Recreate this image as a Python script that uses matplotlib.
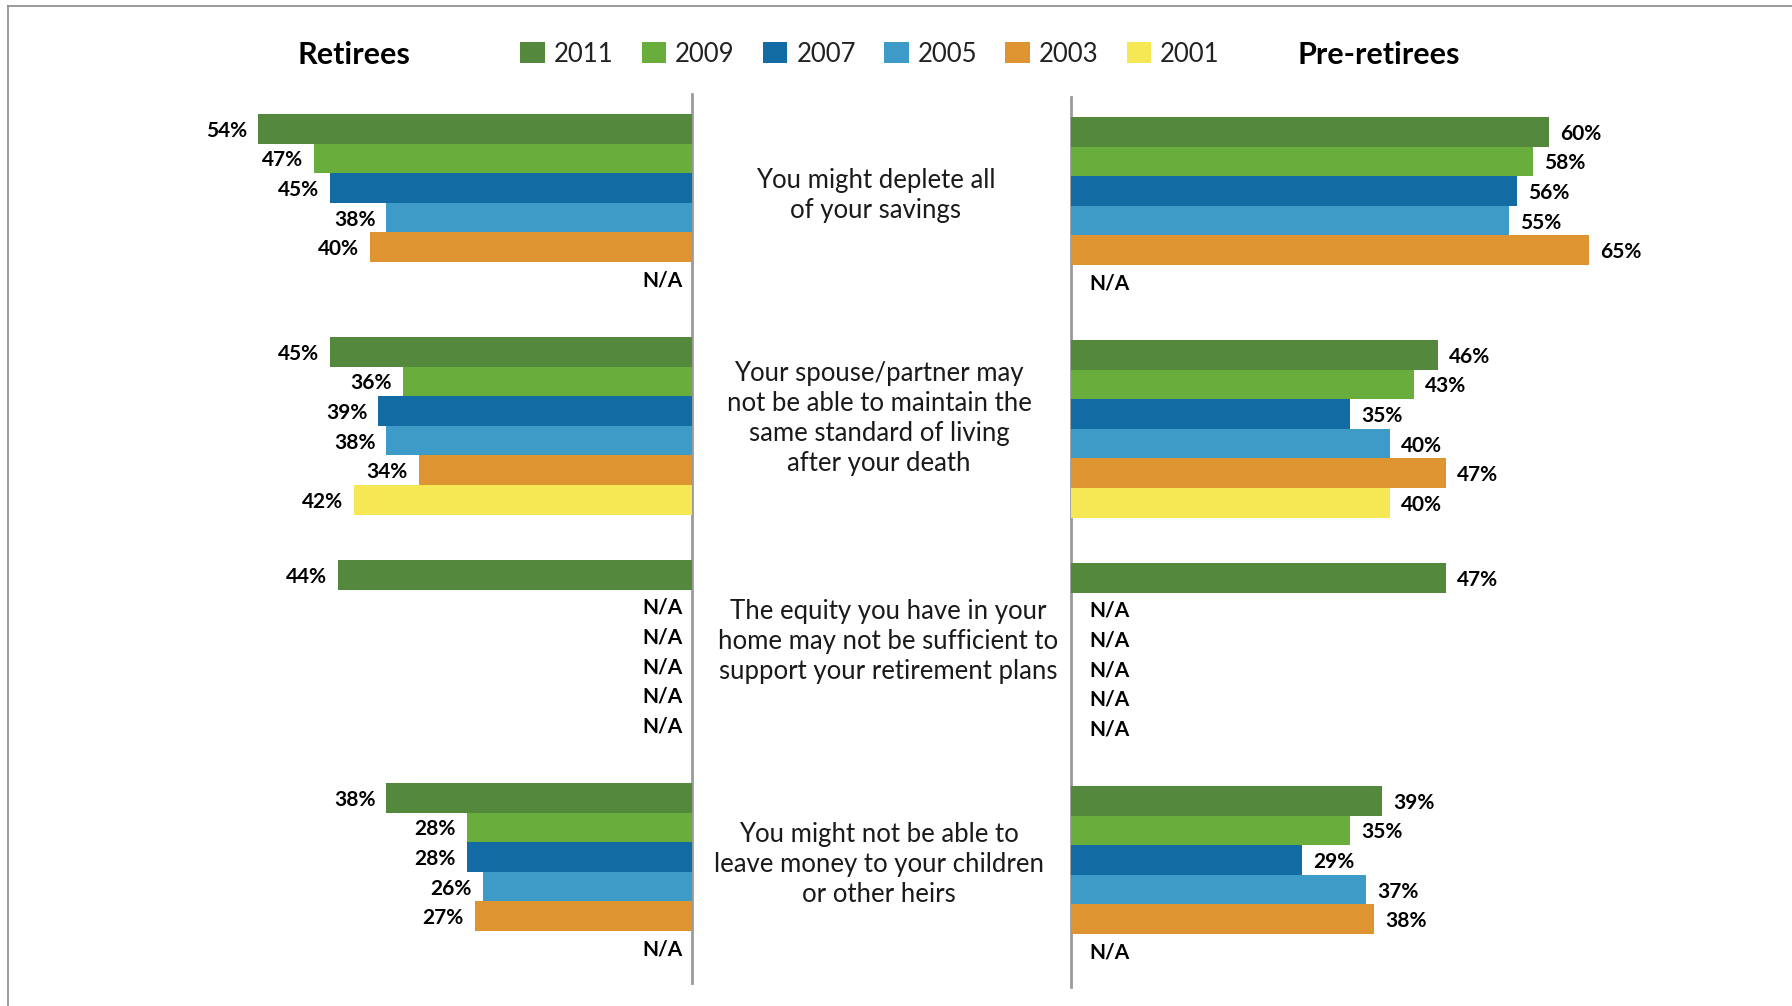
import matplotlib.pyplot as plt
from matplotlib.patches import Patch

plt.rcParams['font.family'] = ['Lato', 'DejaVu Sans']

years = ['2011', '2009', '2007', '2005', '2003', '2001']
colors = ['#54883d', '#69ae3d', '#126ba2', '#3e9bc7', '#de9431', '#f6e854']

questions = [
    'You might deplete all\nof your savings',
    'Your spouse/partner may\nnot be able to maintain the\nsame standard of living\nafter your death',
    'The equity you have in your\nhome may not be sufficient to\nsupport your retirement plans',
    'You might not be able to\nleave money to your children\nor other heirs',
]

# None = N/A (not asked that year)
retirees = [
    [54, 47, 45, 38, 40, None],
    [45, 36, 39, 38, 34, 42],
    [44, None, None, None, None, None],
    [38, 28, 28, 26, 27, None],
]
pre_retirees = [
    [60, 58, 56, 55, 65, None],
    [46, 43, 35, 40, 47, 40],
    [47, None, None, None, None, None],
    [39, 35, 29, 37, 38, None],
]

W, H = 1792, 1006
fig = plt.figure(figsize=(W / 100, H / 100), dpi=100)

# layout in pixels
slot = 29.6
top0 = 114
gstep = 223 / slot
ylim = ((H - top0) / slot, -top0 / slot)
text_x = [876, 879, 888, 879]

# background overlay for frame, dividers, titles, question text
bg = fig.add_axes([0, 0, 1, 1])
bg.set_xlim(0, W)
bg.set_ylim(H, 0)
bg.axis('off')
bg.plot([8, W], [6, 6], color='#8a8a8a', lw=1.2)
bg.plot([8, 8], [6, H], color='#8a8a8a', lw=1.2)
bg.plot([692, 692], [94, 983], color='#9b9b9b', lw=2)
bg.plot([1071, 1071], [97, 987], color='#9b9b9b', lw=2)
bg.text(354, 55, 'Retirees', ha='center', va='center', fontsize=22, fontweight='bold')
bg.text(1379, 55, 'Pre-retirees', ha='center', va='center', fontsize=22, fontweight='bold')
for g, q in enumerate(questions):
    bg.text(text_x[g], top0 + (g * gstep + 2.75) * slot, q, ha='center', va='center',
            fontsize=18.5, linespacing=1.25, color='#1a1a1a')

left_w = 692 - 100
axl = fig.add_axes([100 / W, 0, left_w / W, 1])
axl.set_xlim(left_w / 8.04, 0)
axr = fig.add_axes([1071 / W, 0, (W - 1071) / W, 1])
axr.set_xlim(0, (W - 1071) / 7.97)

for ax, data, side, shift in [(axl, retirees, -1, 0.0), (axr, pre_retirees, 1, 0.1)]:
    ax.set_ylim(*ylim)
    ax.axis('off')
    ax.patch.set_alpha(0)
    for g, vals in enumerate(data):
        for k, v in enumerate(vals):
            y = g * gstep + k + 0.5 + shift
            if v is None:
                off = -7 if side < 0 else 13
                ax.annotate('N/A', (0, y), xytext=(off, -2.5), textcoords='offset points',
                            ha='right' if side < 0 else 'left', va='center',
                            fontsize=15, fontweight='bold')
                continue
            ax.barh(y, v, height=1.0, color=colors[k], edgecolor='none')
            ax.annotate(f'{v}%', (v, y), xytext=(8 * side, -1.5), textcoords='offset points',
                        ha='right' if side < 0 else 'left', va='center',
                        fontsize=15, fontweight='bold')

handles = [Patch(facecolor=c, edgecolor='none') for c in colors]
leg = fig.legend(handles, years, ncol=6, loc='center', bbox_to_anchor=(870 / W, 1 - 54 / H),
                 frameon=False, fontsize=18.5, handlelength=0.95, handleheight=0.85,
                 handletextpad=0.35, columnspacing=1.1, borderpad=0)
for t in leg.get_texts():
    t.set_color('#222222')

fig.savefig('out.png', dpi=100)
